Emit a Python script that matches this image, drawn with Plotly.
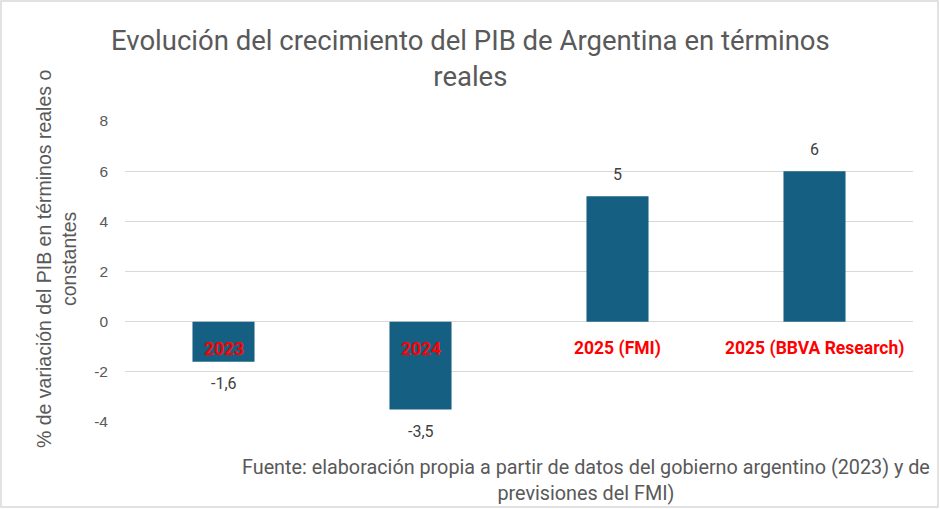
import plotly.graph_objects as go

categories = ["2023", "2024", "2025 (FMI)", "2025 (BBVA Research)"]
values = [-1.6, -3.5, 5, 6]
y_ticks = [-4, -2, 0, 2, 4, 6, 8]

W, H = 940, 509
L, R, T, B = 125, 27, 121, 87
pw, ph = W - L - R, H - T - B

def px(x):
    return (x - L) / pw

def py(y):
    return (H - B - y) / ph

def fmt(v):
    s = ("%g" % v).replace(".", ",")
    return s

FONT = "Roboto, Arial"
GRAY = "#595959"

fig = go.Figure()
fig.add_trace(go.Bar(
    x=list(range(len(categories))), y=values,
    marker=dict(color="#156082", line=dict(width=0)),
    hovertext=categories,
))

annotations = []
for i, (c, v) in enumerate(zip(categories, values)):
    annotations.append(dict(
        x=i, y=0, xref="x", yref="y", text="<b>%s</b>" % c, showarrow=False,
        yanchor="middle", yshift=-27,
        font=dict(family=FONT, size=17.5, color="#FF0000"),
    ))
    annotations.append(dict(
        x=i, y=v, xref="x", yref="y", text=fmt(v), showarrow=False,
        yanchor="middle", yshift=22 if v >= 0 else -22,
        font=dict(family=FONT, size=16, color="#404040"),
    ))
annotations.append(dict(
    x=px(470), y=py(58), xref="paper", yref="paper",
    text="Evolución del crecimiento del PIB de Argentina en términos<br>reales",
    showarrow=False, xanchor="center", yanchor="middle",
    font=dict(family=FONT, size=27.5, color=GRAY),
))
annotations.append(dict(
    x=px(586), y=py(480), xref="paper", yref="paper",
    text="Fuente: elaboración propia a partir de datos del gobierno argentino (2023) y de<br>previsiones del FMI)",
    showarrow=False, xanchor="center", yanchor="middle",
    font=dict(family=FONT, size=19.8, color=GRAY),
))
annotations.append(dict(
    x=px(56), y=py(259), xref="paper", yref="paper",
    text="% de variación del PIB en términos reales o<br>constantes",
    showarrow=False, textangle=-90, xanchor="center", yanchor="middle",
    font=dict(family="Liberation Sans, Arial", size=19.5, color=GRAY),
))

fig.update_layout(
    width=W, height=H,
    margin=dict(l=L, r=R, t=T, b=B),
    paper_bgcolor="white", plot_bgcolor="white",
    bargap=0.685,
    showlegend=False,
    annotations=annotations,
    shapes=[dict(type="rect", xref="paper", yref="paper",
                 x0=px(1), x1=px(938), y0=py(507), y1=py(1),
                 line=dict(color="#D9D9D9", width=1.5), layer="below")],
    xaxis=dict(showticklabels=False, showgrid=False, zeroline=False,
               showline=False, range=[-0.5, 3.5]),
    yaxis=dict(range=[-4, 8], tickvals=y_ticks, ticktext=[str(t) for t in y_ticks],
               showgrid=True, gridcolor="#D9D9D9", gridwidth=1, zeroline=True,
               zerolinecolor="#D9D9D9", zerolinewidth=1,
               tickfont=dict(family="Liberation Sans, Arial", size=15.5, color=GRAY),
               ticklabelstandoff=16, showline=False),
)

fig.write_html("out.html", config={"displayModeBar": False},
               post_script="document.body.style.margin='0';")
